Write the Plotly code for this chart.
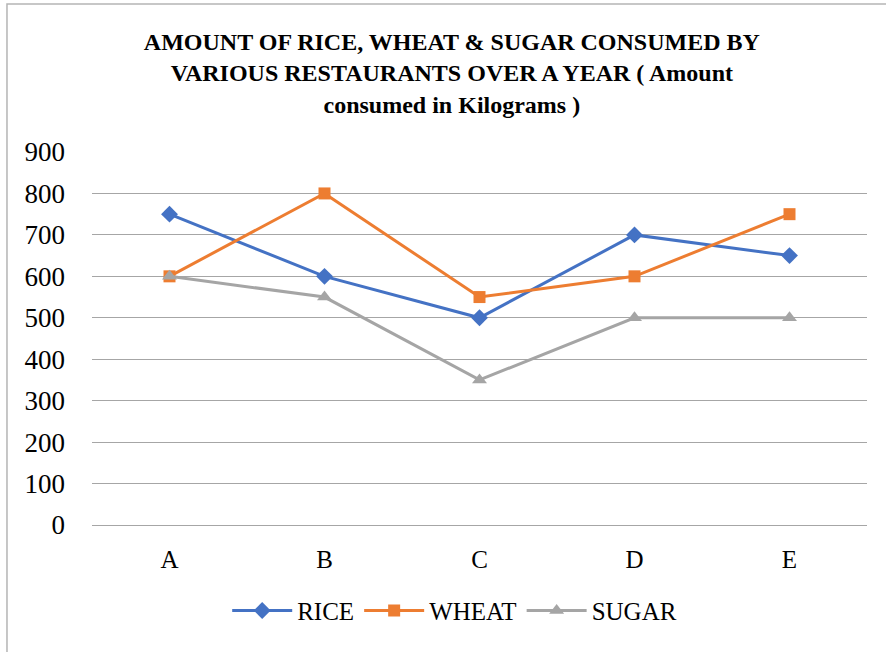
import plotly.graph_objects as go

categories = ["A", "B", "C", "D", "E"]
rice = [750, 600, 500, 700, 650]
wheat = [600, 800, 550, 600, 750]
sugar = [600, 550, 350, 500, 500]
y_ticks = [0, 100, 200, 300, 400, 500, 600, 700, 800, 900]

FONT = "'Liberation Serif', 'Times New Roman', 'DejaVu Serif', serif"

fig = go.Figure()
fig.add_trace(go.Scatter(x=categories, y=rice, name="RICE", mode="lines+markers",
                         line=dict(color="#4472C4", width=3),
                         marker=dict(symbol="diamond", size=13, color="#4472C4")))
fig.add_trace(go.Scatter(x=categories, y=wheat, name="WHEAT", mode="lines+markers",
                         line=dict(color="#ED7D31", width=3),
                         marker=dict(symbol="square", size=12, color="#ED7D31")))
fig.add_trace(go.Scatter(x=categories, y=sugar, name="SUGAR", mode="lines+markers",
                         line=dict(color="#A5A5A5", width=3),
                         marker=dict(symbol="triangle-up", size=13, color="#A5A5A5")))

fig.update_layout(
    width=886, height=652,
    margin=dict(l=92, r=19, t=152, b=127),
    paper_bgcolor="white", plot_bgcolor="white",
    font=dict(family=FONT, size=24, color="#000000"),
    title=dict(
        text="AMOUNT OF RICE, WHEAT &amp; SUGAR CONSUMED BY<br>VARIOUS RESTAURANTS OVER A YEAR ( Amount<br>consumed in Kilograms )",
        x=0.51, xanchor="center", y=0.923, yanchor="middle",
        font=dict(family=FONT, size=24, color="#000000", weight="bold"),
    ),
    xaxis=dict(range=[-0.5, 4.5], showgrid=False, showline=False, zeroline=False, ticks="",
               tickfont=dict(family=FONT, size=25), ticklabelstandoff=17, fixedrange=True),
    yaxis=dict(range=[0, 900], tickvals=y_ticks, showgrid=True, gridcolor="#a6a6a6",
               gridwidth=1.3, zeroline=True, zerolinecolor="#a6a6a6", zerolinewidth=1.3,
               showline=False, ticks="", tickfont=dict(family=FONT, size=27), ticklabelstandoff=26),
    legend=dict(orientation="h", x=0.468, xanchor="center", y=-0.23, yanchor="middle",
                font=dict(family=FONT, size=25), itemwidth=60, tracegroupgap=0),
    shapes=[dict(type="rect", xref="paper", yref="paper", x0=-0.1097, x1=1.2,
                 y0=-1.0, y1=1.3968, line=dict(color="#b5b5b5", width=1.5),
                 fillcolor="rgba(0,0,0,0)", layer="below")],
)

fig.write_html("out.html", config={"displayModeBar": False},
               post_script="document.body.style.margin='0';")
